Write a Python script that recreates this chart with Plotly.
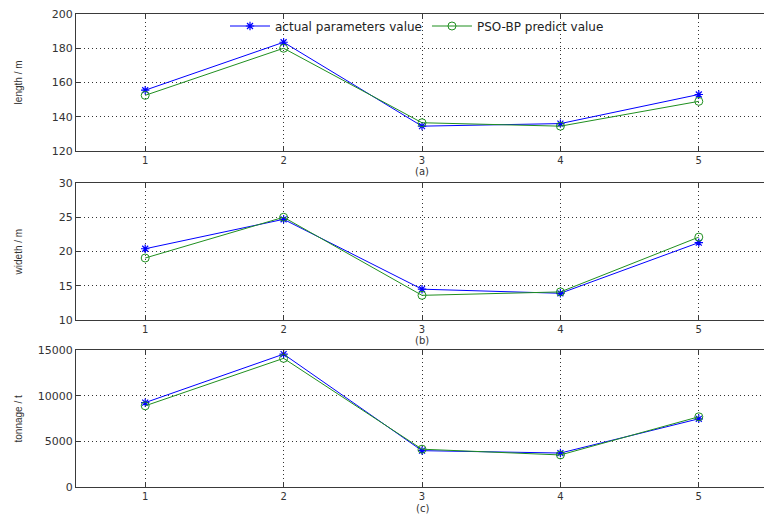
import plotly.graph_objects as go
from plotly.subplots import make_subplots

samples = [1, 2, 3, 4, 5]
length_actual = [155.5, 183.5, 134.5, 136.0, 153.0]
length_pred = [152.5, 180.0, 136.5, 134.5, 149.0]
width_actual = [20.4, 24.7, 14.5, 13.9, 21.3]
width_pred = [19.05, 25.0, 13.6, 14.1, 22.1]
ton_actual = [9250, 14560, 3990, 3730, 7480]
ton_pred = [8900, 14100, 4150, 3520, 7700]

y_titles = ["length / m", "wideth / m", "tonnage / t"]
panel_labels = ["(a)", "(b)", "(c)"]
y_ranges = [[120, 200], [10, 30], [0, 15000]]
y_dticks = [20, 5, 5000]

BLUE = "#0000ff"
GREEN = "#1f8f1f"
AXC = "#3a3a3a"
GRIDC = "#333333"
FONT = "DejaVu Sans, Liberation Sans, Arial, sans-serif"

fig = make_subplots(rows=3, cols=1, vertical_spacing=0.0674)

series = [(length_actual, length_pred), (width_actual, width_pred), (ton_actual, ton_pred)]
for i, (a, p) in enumerate(series):
    r = i + 1
    fig.add_trace(go.Scatter(x=samples, y=a, mode="lines+markers", name="actual parameters value",
                             line=dict(color=BLUE, width=1),
                             marker=dict(symbol="asterisk-open", size=7, color=BLUE, line=dict(width=1.2, color=BLUE)),
                             showlegend=(i == 0)), row=r, col=1)
    fig.add_trace(go.Scatter(x=samples, y=p, mode="lines+markers", name="PSO-BP predict value",
                             line=dict(color=GREEN, width=1),
                             marker=dict(symbol="circle-open", size=8, color=GREEN, line=dict(width=1, color=GREEN)),
                             showlegend=(i == 0)), row=r, col=1)

domains = [[0.7116, 1.0], [0.3558, 0.6442], [0.004, 0.2924]]
for i in range(3):
    xa = "xaxis" if i == 0 else f"xaxis{i+1}"
    ya = "yaxis" if i == 0 else f"yaxis{i+1}"
    fig.layout[xa].update(range=[0.5, 5.471], tickvals=samples, ticks="inside", ticklen=5,
                          tickcolor=AXC, showline=True, linecolor=AXC, linewidth=1, mirror="ticks",
                          showgrid=True, gridcolor=GRIDC, griddash="1px,3px", gridwidth=1,
                          zeroline=False, tickfont=dict(size=10, color="#333333", family=FONT))
    fig.layout[ya].update(range=y_ranges[i], dtick=y_dticks[i], tick0=0, ticks="inside", ticklen=5,
                          tickcolor=AXC, showline=True, linecolor=AXC, linewidth=1,
                          showgrid=True, gridcolor=GRIDC, griddash="1px,3px", gridwidth=1,
                          zeroline=False, tickformat="d", domain=domains[i],
                          tickfont=dict(size=11, color="#333333", family=FONT))

annotations = []
for i in range(3):
    d = domains[i]
    annotations.append(dict(text=y_titles[i], xref="paper", yref="paper", x=-0.083,
                            y=(d[0] + d[1]) / 2, textangle=-90, showarrow=False,
                            font=dict(size=10, color="#333333", family="Liberation Sans, Arial, sans-serif"),
                            xanchor="center", yanchor="middle"))
    annotations.append(dict(text=panel_labels[i], xref="paper", yref="paper", x=(422 - 76) / 688,
                            y=d[0] - 21 / 475, showarrow=False,
                            font=dict(size=10, color="#333333", family=FONT),
                            xanchor="center", yanchor="middle"))

fig.update_layout(
    width=764, height=515,
    margin=dict(l=76, r=0, t=14, b=26),
    paper_bgcolor="white", plot_bgcolor="white",
    font=dict(family=FONT, size=11, color="#333333"),
    legend=dict(orientation="h", x=(417 - 76) / 688, y=(489 - 26) / 475, xanchor="center", yanchor="middle",
                bgcolor="rgba(0,0,0,0)", font=dict(size=12, color="#222222", family=FONT),
                itemwidth=40, tracegroupgap=0),
    annotations=annotations,
    showlegend=True,
)

fig.write_html("out.html", config={"displayModeBar": False},
               post_script="document.body.style.margin='0px';document.body.style.overflow='hidden';")
